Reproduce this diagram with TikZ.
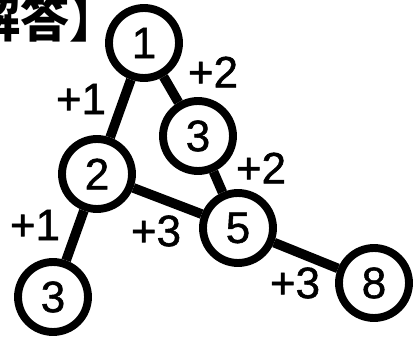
\documentclass[tikz,border=0pt]{standalone}
\usepackage{fontspec}
\setmainfont{Liberation Sans}
\newfontfamily\numfont{Liberation Sans}[FakeBold=1.2]
\newfontfamily\cjk{Noto Sans CJK JP}
\usepackage{tikz}
\usetikzlibrary{positioning}
\definecolor{mydark}{RGB}{0,0,0}
\tikzset{
  vtx/.style={circle, draw=mydark, fill=white, line width=4.5pt,
    minimum size=1.40cm, inner sep=0pt, font=\numfont\fontsize{25}{30}\selectfont},
  cost/.style={inner sep=0pt, font=\numfont\fontsize{25}{30}\selectfont},
  link/.style={line width=5.5pt, color=mydark},
  heading/.style={inner sep=0pt, font=\cjk\bfseries\fontsize{28}{32}\selectfont}
}
\begin{document}
\begin{tikzpicture}[x=0.02cm, y=-0.02cm]
  \useasboundingbox (0,0) rectangle (414,338);

  \node[heading, anchor=base west] (ttl) at (-78,37) {【解答】};

  % tree of stations
  \node[vtx] (s1) at (144,43) {1};
  \node[vtx] (s3a) at (198,136) {3};
  \node[vtx] (s2) at (97,174) {2};
  \node[vtx] (s5) at (238,228) {5};
  \node[vtx] (s3b) at (53,297) {3};
  \node[vtx] (s8) at (374,283) {8};

  \draw[link] (s1) -- (s2);
  \draw[link] (s1) -- (s3a);
  \draw[link] (s3a) -- (s5);
  \draw[link] (s2) -- (s5);
  \draw[link] (s2) -- (s3b);
  \draw[link] (s5) -- (s8);

  % step costs
  \node[cost] (c12) at (81,99) {+1};
  \node[cost] (c13) at (213,72) {+2};
  \node[cost] (c35) at (261,168) {+2};
  \node[cost] (c23) at (35,225) {+1};
  \node[cost] (c25) at (156,231) {+3};
  \node[cost] (c58) at (295,283) {+3};
\end{tikzpicture}
\end{document}
